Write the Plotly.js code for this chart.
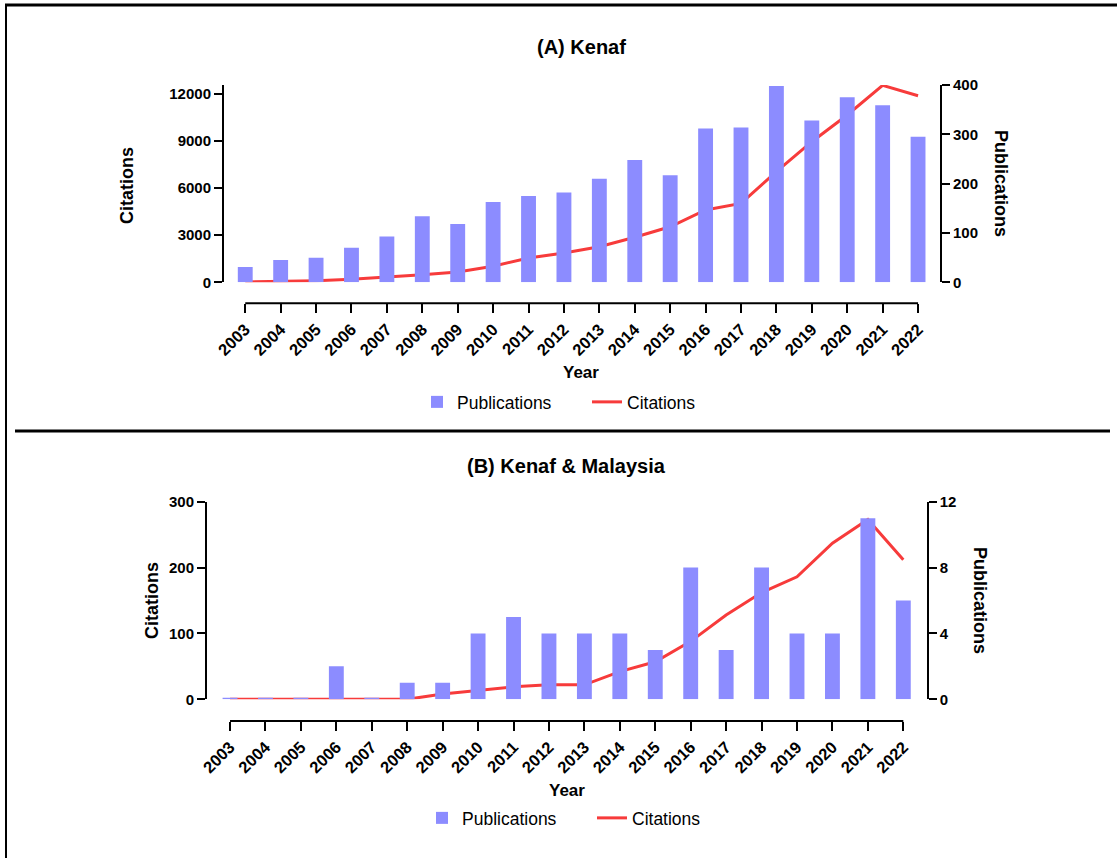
<!DOCTYPE html>
<html>
<head>
<meta charset="utf-8">
<script src="https://cdn.plot.ly/plotly-3.0.1.min.js"></script>
<style>html,body{margin:0;padding:0;background:#fff;}#chart{width:1117px;height:858px;}</style>
</head>
<body>
<div id="chart"></div>
<script>
// ---- Data ----
const years = [2003,2004,2005,2006,2007,2008,2009,2010,2011,2012,2013,2014,2015,2016,2017,2018,2019,2020,2021,2022];
const yearLabels = years.map(String);

// (A) Kenaf
const kenafPublications = [31,45,50,70,93,134,118,163,175,182,210,248,217,312,314,398,328,375,359,295];
const kenafCitations = [20,50,100,190,320,485,655,1020,1550,1870,2270,2870,3540,4610,5030,7050,8960,10660,12550,11890];

// (B) Kenaf & Malaysia
const kmPublications = [0.1,0.1,0.1,2,0.1,1,1,4,5,4,4,4,3,8,3,8,4,4,11,6];
const kmCitations = [0,0,0,0,0,0,8,14,19,22,22,42,57,88,128,162,186,237,273,212];

const citTicksA = [0,3000,6000,9000,12000];
const pubTicksA = [0,100,200,300,400];
const citTicksB = [0,100,200,300];
const pubTicksB = [0,4,8,12];

// ---- Style ----
const W = 1117, H = 858;
const px = v => v / W;
const py = v => 1 - v / H;
const FONT = 'Liberation Sans, Arial, Helvetica, sans-serif';
const BAR = '#8c8cff';
const LINE = '#f73b3b';
const yTickFont = {family: FONT, size: 15, color: '#000', weight: 700};
const xTickFont = {family: FONT, size: 16.5, color: '#000', weight: 700};

const traces = [
  {type:'bar', name:'Publications', x: years, y: kenafPublications, xaxis:'x', yaxis:'y2',
   width: 0.42, marker:{color: BAR, line:{width:0}}, legend:'legend'},
  {type:'scatter', mode:'lines', name:'Citations', x: years, y: kenafCitations, xaxis:'x', yaxis:'y',
   line:{color: LINE, width: 3}, cliponaxis:false, legend:'legend'},
  {type:'bar', name:'Publications', x: years, y: kmPublications, xaxis:'x2', yaxis:'y4',
   width: 0.42, marker:{color: BAR, line:{width:0}}, legend:'legend2'},
  {type:'scatter', mode:'lines', name:'Citations', x: years, y: kmCitations, xaxis:'x2', yaxis:'y3',
   line:{color: LINE, width: 3}, cliponaxis:false, legend:'legend2'}
];

function xAxis(domain, range, posPx) {
  return {domain: domain, range: range, anchor:'free', position: py(posPx),
    showline:false, showgrid:false, zeroline:false,
    tickmode:'array', tickvals: years, ticktext: yearLabels, tickangle:-45,
    ticks:'outside', ticklen:9, tickwidth:2, tickcolor:'#000', tickfont: xTickFont, fixedrange:true};
}
function yAxis(domain, range, tickvals, extra) {
  return Object.assign({domain: domain, range: range, showline:true, linewidth:2, linecolor:'#000',
    showgrid:false, zeroline:false, tickmode:'array', tickvals: tickvals,
    ticks:'outside', ticklen:8, tickwidth:2, tickcolor:'#000', tickfont: yTickFont, fixedrange:true}, extra || {});
}

const domA = [py(282.3), py(85)];
const domB = [py(699.3), py(501.7)];
const xDomA = [px(224), px(940)];
const xDomB = [px(207), px(926.7)];

const axisTitleFont = {family: FONT, size: 18, color:'#000', weight:700};
const titleFont = {family: FONT, size: 20, color:'#000', weight:700};
const legendFont = {family: FONT, size: 17.5, color:'#000'};

const layout = {
  width: W, height: H,
  margin:{l:0, r:0, t:0, b:0},
  paper_bgcolor:'#fff', plot_bgcolor:'rgba(0,0,0,0)',
  font:{family: FONT, color:'#000'},
  xaxis: xAxis(xDomA, [2002.4, 2022.62], 303.3),
  yaxis: yAxis(domA, [0, 12573], citTicksA, {anchor:'x', side:'left', tickformat:'d'}),
  yaxis2: yAxis(domA, [0, 400], pubTicksA, {anchor:'x', overlaying:'y', side:'right'}),
  xaxis2: xAxis(xDomB, [2002.35, 2022.66], 721),
  yaxis3: yAxis(domB, [0, 300], citTicksB, {anchor:'x2', side:'left'}),
  yaxis4: yAxis(domB, [0, 12], pubTicksB, {anchor:'x2', overlaying:'y3', side:'right'}),
  legend: {orientation:'h', x: px(417), xanchor:'left', y: py(402), yanchor:'middle',
    entrywidth: 125, entrywidthmode:'pixels',
    font: legendFont, bgcolor:'rgba(0,0,0,0)', traceorder:'normal'},
  legend2: {orientation:'h', x: px(422), xanchor:'left', y: py(818), yanchor:'middle',
    entrywidth: 125, entrywidthmode:'pixels',
    font: legendFont, bgcolor:'rgba(0,0,0,0)', traceorder:'normal'},
  showlegend: true,
  annotations: [
    {text:'(A) Kenaf', xref:'paper', yref:'paper', x: px(581), y: py(47), showarrow:false, font: titleFont, xanchor:'center', yanchor:'middle'},
    {text:'(B) Kenaf &amp; Malaysia', xref:'paper', yref:'paper', x: px(566), y: py(466), showarrow:false, font: titleFont, xanchor:'center', yanchor:'middle'},
    {text:'Citations', xref:'paper', yref:'paper', x: px(127), y: py(186), textangle:-90, showarrow:false, font: axisTitleFont, xanchor:'center', yanchor:'middle'},
    {text:'Publications', xref:'paper', yref:'paper', x: px(1001), y: py(183), textangle:90, showarrow:false, font: axisTitleFont, xanchor:'center', yanchor:'middle'},
    {text:'Year', xref:'paper', yref:'paper', x: px(581), y: py(372), showarrow:false, font: {family: FONT, size:17, color:'#000', weight:700}, xanchor:'center', yanchor:'middle'},
    {text:'Citations', xref:'paper', yref:'paper', x: px(152), y: py(600), textangle:-90, showarrow:false, font: axisTitleFont, xanchor:'center', yanchor:'middle'},
    {text:'Publications', xref:'paper', yref:'paper', x: px(980), y: py(600), textangle:90, showarrow:false, font: axisTitleFont, xanchor:'center', yanchor:'middle'},
    {text:'Year', xref:'paper', yref:'paper', x: px(567), y: py(790), showarrow:false, font: {family: FONT, size:17, color:'#000', weight:700}, xanchor:'center', yanchor:'middle'}
  ],
  shapes: [
    // x-axis baselines spanning first to last category
    {type:'line', xref:'x', yref:'paper', x0: years[0], x1: years[years.length-1], y0: py(303.3), y1: py(303.3), line:{color:'#000', width:2}},
    {type:'line', xref:'x2', yref:'paper', x0: years[0], x1: years[years.length-1], y0: py(721), y1: py(721), line:{color:'#000', width:2}},
    // frame lines
    {type:'line', xref:'paper', yref:'paper', x0: px(5), x1: 1, y0: py(5), y1: py(5), line:{color:'#000', width:3}},
    {type:'line', xref:'paper', yref:'paper', x0: px(6), x1: px(6), y0: py(5), y1: 0, line:{color:'#000', width:2}},
    {type:'line', xref:'paper', yref:'paper', x0: px(15), x1: px(1110), y0: py(431), y1: py(431), line:{color:'#000', width:3}}
  ]
};

Plotly.newPlot('chart', traces, layout, {displayModeBar:false, staticPlot:true});
</script>
</body>
</html>
